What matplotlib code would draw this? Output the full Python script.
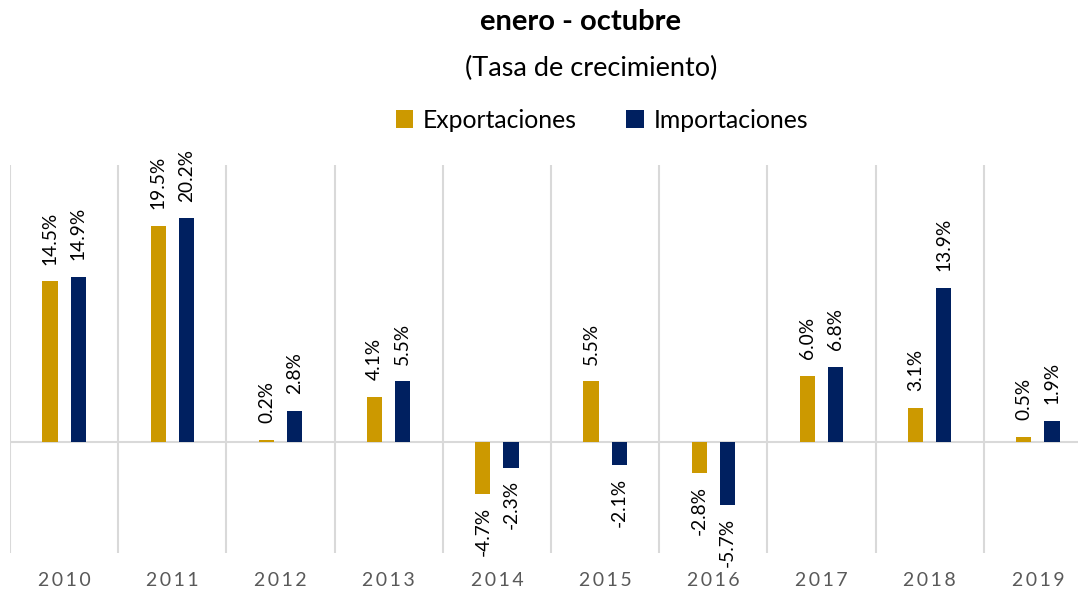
import matplotlib.pyplot as plt
import numpy as np

years = ["2010", "2011", "2012", "2013", "2014", "2015", "2016", "2017", "2018", "2019"]
exportaciones = [14.5, 19.5, 0.2, 4.1, -4.7, 5.5, -2.8, 6.0, 3.1, 0.5]
importaciones = [14.9, 20.2, 2.8, 5.5, -2.3, -2.1, -5.7, 6.8, 13.9, 1.9]

gold = "#CC9900"
navy = "#002060"
plt.rcParams['font.family'] = ['Lato', 'DejaVu Sans']

W, H = 1078, 592
fig = plt.figure(figsize=(W / 100, H / 100), dpi=100)
# axes spans the category grid; right edge runs past the image like the original
ax = fig.add_axes([10 / W, 1 - 553 / H, 1082 / W, 388 / H])

x = np.arange(len(years))
bw = 0.14
off = 0.13
b1 = ax.bar(x - off, exportaciones, bw, color=gold, label="Exportaciones")
b2 = ax.bar(x + off, importaciones, bw, color=navy, label="Importaciones")

for bars, vals in ((b1, exportaciones), (b2, importaciones)):
    for rect, v in zip(bars, vals):
        cx = rect.get_x() + rect.get_width() / 2
        if v >= 0:
            ax.annotate(f"{v:.1f}%", (cx, v), xytext=(0, 12), textcoords="offset points",
                        rotation=90, ha="center", va="bottom", fontsize=13.8, color="#000000")
        else:
            ax.annotate(f"{v:.1f}%", (cx, v), xytext=(0, -9), textcoords="offset points",
                        rotation=90, ha="center", va="top", fontsize=13.8, color="#000000")

ax.set_xlim(-0.5, len(years) - 0.5)
ax.set_ylim(-10, 25)
for b in np.arange(-0.5, len(years), 1.0):
    ax.axvline(b, color="#D9D9D9", lw=1.5, zorder=0)
ax.axhline(0, color="#D9D9D9", lw=1.5, zorder=0)

for s in ax.spines.values():
    s.set_visible(False)
ax.set_yticks([])
ax.set_xticks(x)
ax.set_xticklabels(["\u2009".join(y) for y in years], fontsize=14, color="#595959")
ax.tick_params(axis="x", length=0, pad=14)

fig.text(580 / W, 1 - 22 / H, "enero - octubre", ha="center", va="center",
         fontsize=21, fontweight="bold")
fig.text(591 / W, 1 - 68 / H, "(Tasa de crecimiento)", ha="center", va="center",
         fontsize=19.5)
fig.legend(handles=[b1, b2], loc="center", bbox_to_anchor=(602 / W, 1 - 120 / H),
           ncol=2, frameon=False, fontsize=17.8, handlelength=0.7, handleheight=0.7,
           handletextpad=0.4, columnspacing=2.0)

fig.savefig("out.png", dpi=100)
